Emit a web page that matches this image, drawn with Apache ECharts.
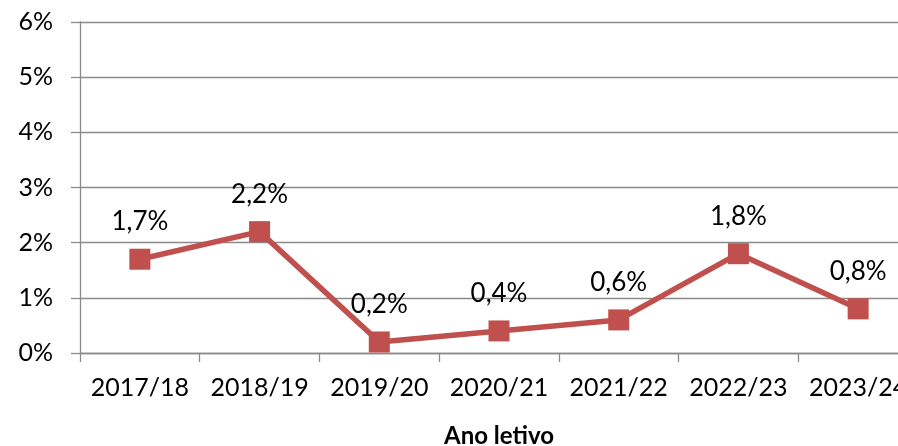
<!DOCTYPE html>
<html><head><meta charset="utf-8">
<script src="https://cdn.jsdelivr.net/npm/echarts@6/dist/echarts.min.js"></script>
<style>html,body{margin:0;padding:0;background:#fff}#c{width:898px;height:446px}</style>
</head><body><div id="c"></div>
<script>
const categories = ['2017/18','2018/19','2019/20','2020/21','2021/22','2022/23','2023/24'];
const values = [1.7, 2.2, 0.2, 0.4, 0.6, 1.8, 0.8];
const yTicks = [0,1,2,3,4,5,6];
const fmt = v => v.toFixed(1).replace('.', ',') + '%';
const font = 'Lato, "Open Sans", sans-serif';
const chart = echarts.init(document.getElementById('c'), null, {renderer:'canvas'});
chart.setOption({
  animation:false,
  grid:{left:80, top:22, width:838, height:331, containLabel:false, outerBoundsMode:'none'},
  xAxis:{
    type:'category', data:categories, boundaryGap:true,
    axisLine:{show:true, lineStyle:{color:'#8a8a8a', width:1.3}},
    axisTick:{show:true, length:9, interval:0, lineStyle:{color:'#8a8a8a', width:1.3}},
    axisLabel:{color:'#000', fontSize:25, fontFamily:font, margin:22, interval:0, hideOverlap:false},
    name:'Ano letivo', nameLocation:'middle', nameGap:71,
    nameTextStyle:{color:'#000', fontSize:24, fontWeight:'bold', fontFamily:font}
  },
  yAxis:{
    type:'value', min:0, max:6, interval:1,
    axisLine:{show:true, lineStyle:{color:'#8a8a8a', width:1.3}},
    axisTick:{show:true, length:9, lineStyle:{color:'#8a8a8a', width:1.3}},
    splitLine:{show:true, lineStyle:{color:'#8a8a8a', width:1.3}},
    axisLabel:{color:'#000', fontSize:25, fontFamily:font, margin:27,
      formatter: v => yTicks.includes(v) ? v + '%' : ''}
  },
  series:[{
    type:'line', data:values, symbol:'rect', symbolSize:21,
    lineStyle:{color:'#C0504D', width:5.5},
    itemStyle:{color:'#C0504D'},
    label:{show:true, position:'top', distance:14, color:'#000', fontSize:26, fontFamily:font,
      formatter: p => fmt(p.value)}
  }]
});
</script></body></html>
